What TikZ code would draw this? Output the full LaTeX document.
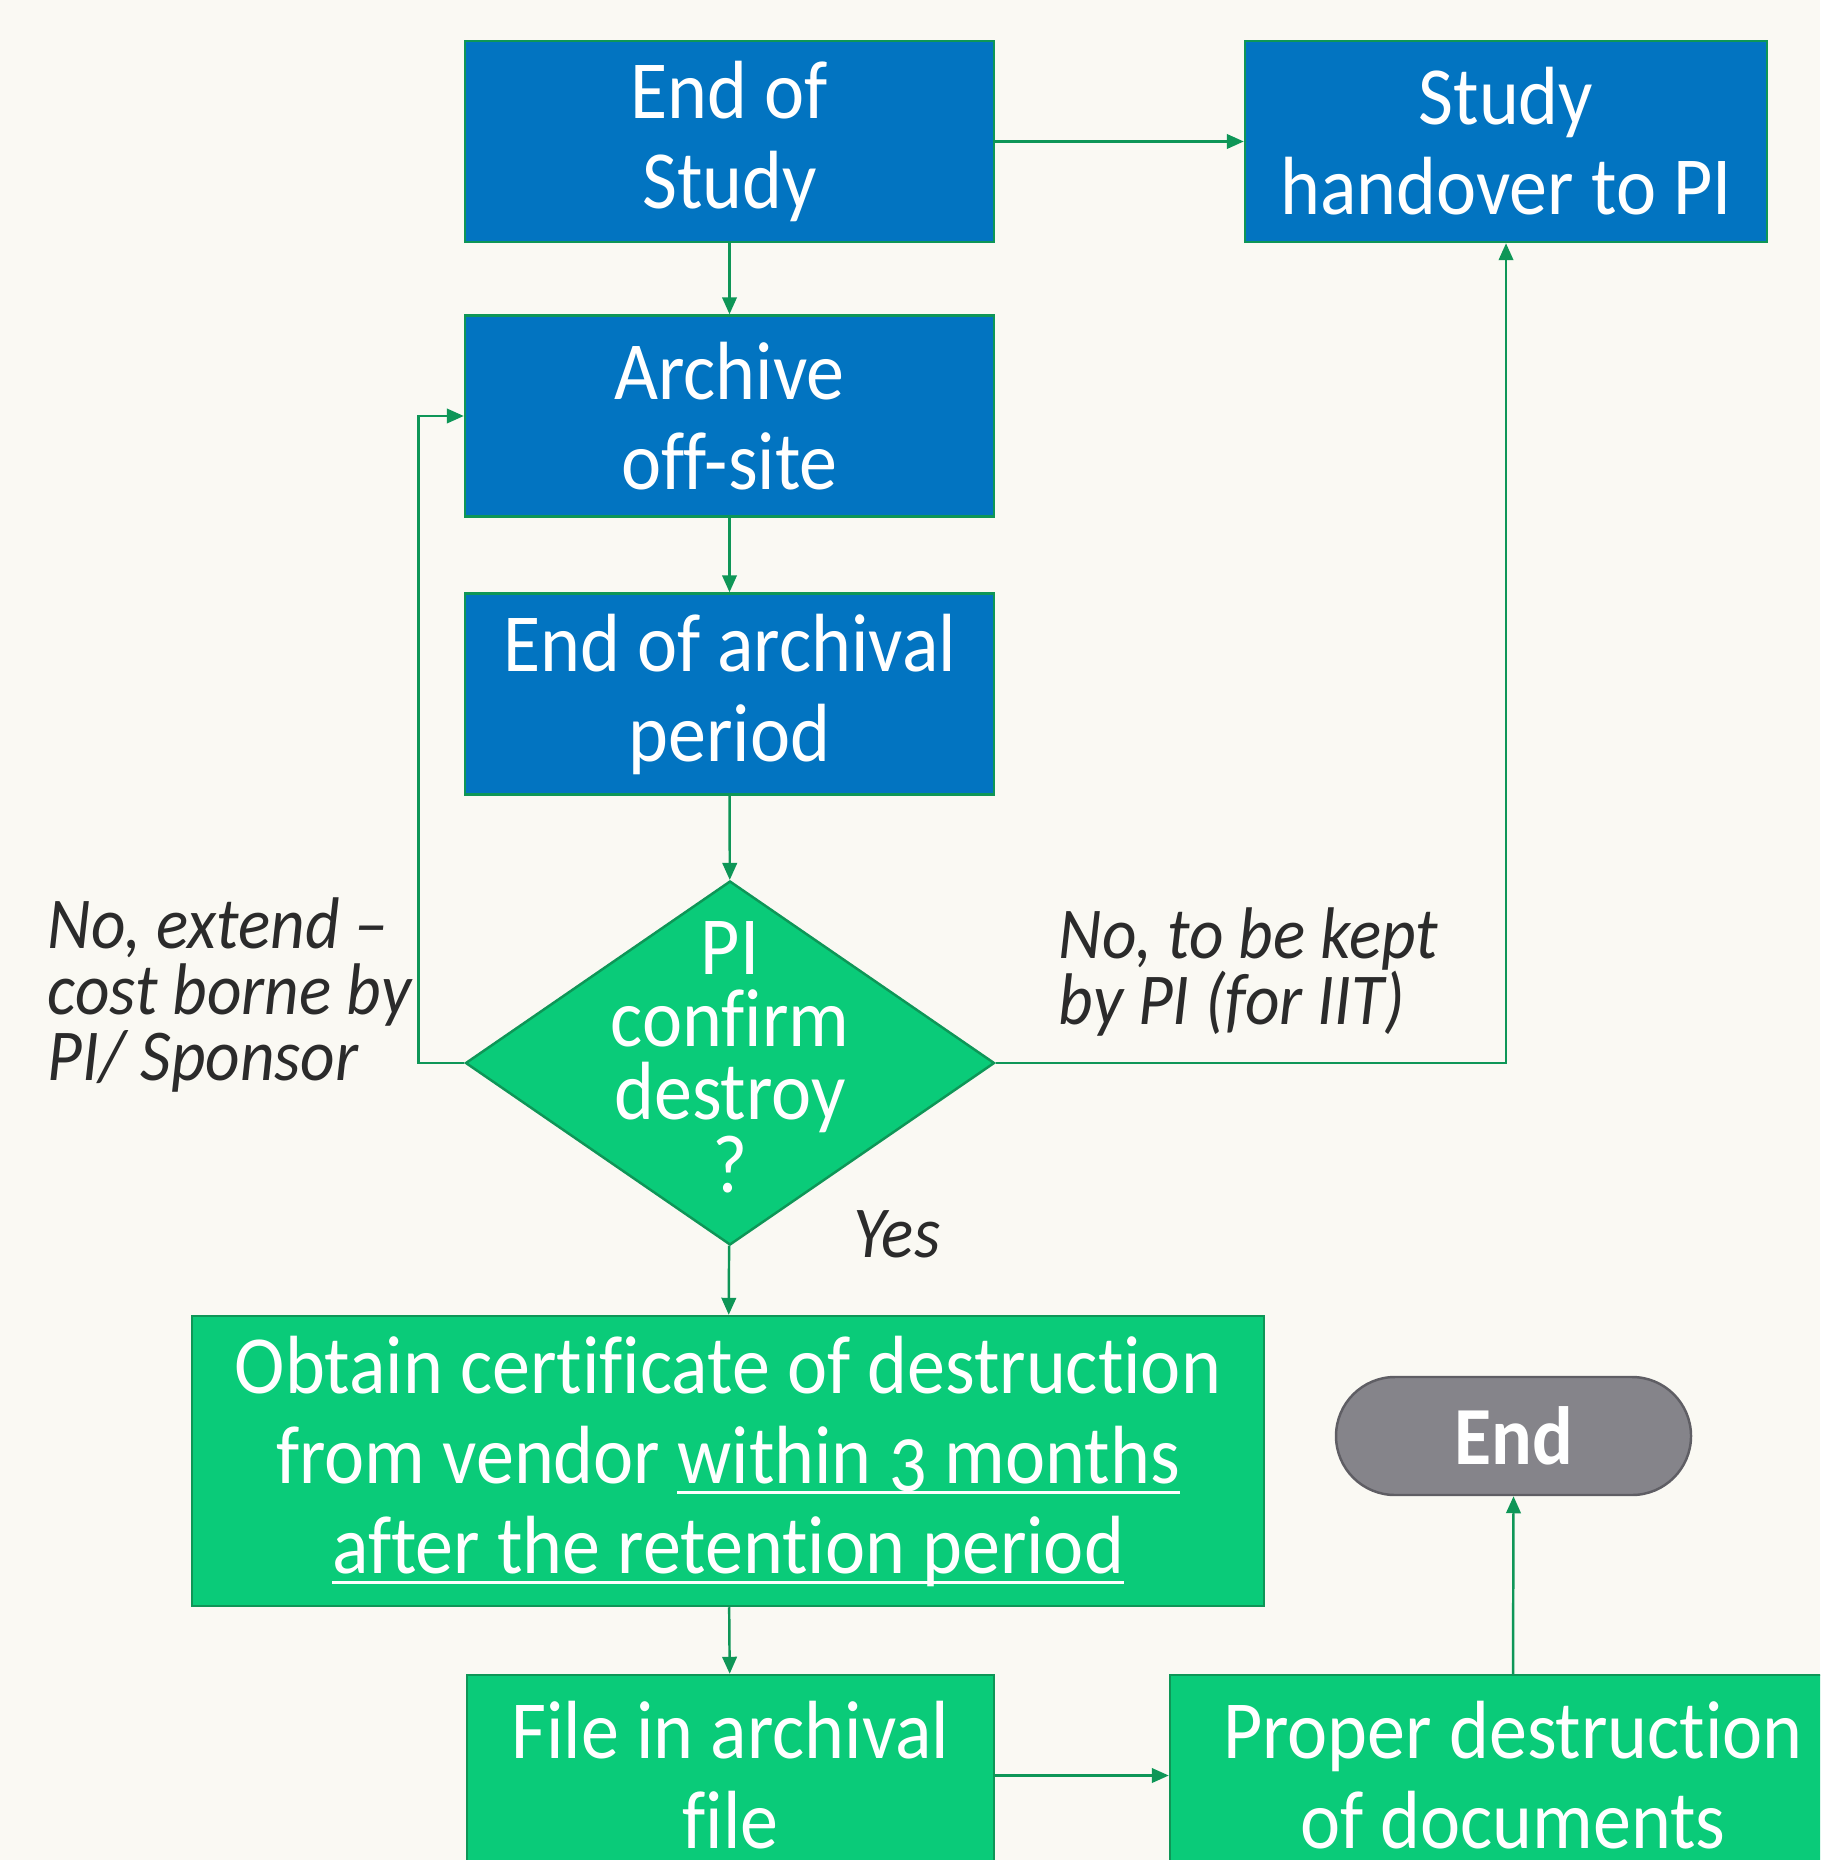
\documentclass[tikz,border=0pt]{standalone}
\usepackage{fontspec}
\setmainfont{Carlito}[FakeStretch=0.92, Ligatures=NoCommon]
\usetikzlibrary{
    arrows.meta,
    shapes.geometric,
    positioning
}
\definecolor{bgcream}{HTML}{FAF9F3}
\definecolor{boxblue}{HTML}{0274C1}
\definecolor{boxgreen}{HTML}{0ACB79}
\definecolor{linegreen}{HTML}{0E9657}
\definecolor{endgray}{HTML}{85848A}
\definecolor{endedge}{HTML}{5F5E64}
\definecolor{notetext}{HTML}{2B2B2B}
\newcommand{\ulinetext}[1]{\leavevmode\setbox0=\hbox{#1}\rlap{\vrule height -2.2pt depth 3.1pt width \wd0}\box0}
\tikzset{stepblue/.style={rectangle, draw=linegreen, fill=boxblue, text=white, line width=0.7pt, minimum width=5.29cm, minimum height=2.01cm, align=center, inner sep=0pt, font=\fontsize{23.5}{25.6}\selectfont}}
\tikzset{stepgreen/.style={stepblue, fill=boxgreen}}
\tikzset{decision/.style={diamond, draw=linegreen, fill=boxgreen, line width=0.7pt, minimum width=5.29cm, minimum height=3.64cm, inner sep=0pt}}
\tikzset{decisiontext/.style={text=white, align=center, inner sep=0pt, font=\fontsize{23.5}{20.7}\selectfont}}
\tikzset{terminal/.style={rectangle, rounded corners=0.59cm, draw=endedge, fill=endgray, text=white, line width=0.7pt, minimum width=3.55cm, minimum height=1.18cm, inner sep=0pt, font=\fontsize{23.5}{25.6}\selectfont\bfseries}}
\tikzset{note/.style={text=notetext, align=left, inner sep=0pt, font=\fontsize{20.8}{18.8}\selectfont\itshape}}
\tikzset{flow/.style={draw=linegreen, line width=0.7pt, -{Triangle[length=0.17cm, width=0.145cm]}}}

\begin{document}
\begin{tikzpicture}[x=1cm, y=-1cm]
    \fill[bgcream] (0, 0) rectangle (18.2, 18.6);
    \useasboundingbox (0, 0) rectangle (18.2, 18.6);
    \clip (0, 0) rectangle (18.2, 18.6);

    % steps
    \node[stepblue] (endstudy) at (7.295, 1.415) {End of\\Study};
    \node[stepblue, minimum width=5.22cm] (handover) at (15.06, 1.415) {Study\\handover to PI};
    \node[stepblue] (archive) at (7.295, 4.16) {Archive\\off-site};
    \node[stepblue] (endarch) at (7.295, 6.94) {End of archival\\period};

    \node[decision] (decide) at (7.30, 10.63) {};
    \node[decisiontext] (decidetext) at (7.30, 10.57) {PI\\confirm\\destroy\\?};

    \node[stepgreen, minimum width=10.72cm, minimum height=2.90cm] (obtain) at (7.28, 14.61)
        {Obtain certificate of destruction\\from vendor \ulinetext{within {\addfontfeatures{Numbers=OldStyle}3} months}\\\ulinetext{after the retention period}};
    \node[terminal] (finish) at (15.135, 14.36) {End};
    \node[stepgreen, minimum width=5.27cm] (filing) at (7.305, 17.755) {File in archival\\file};
    \node[stepgreen, minimum width=6.86cm] (destroy) at (15.13, 17.755) {Proper destruction\\of documents};

    % labels
    \node[note, anchor=west] (extendnote) at (0.47, 9.95) {No, extend –\\cost borne by\\PI/ Sponsor};
    \node[note, anchor=west] (keptnote) at (10.58, 9.72) {No, to be kept\\by PI (for IIT)};
    \node[note] (yesnote) at (8.97, 12.34) {Yes};

    % connectors
    \draw[flow] (endstudy) -- (archive);
    \draw[flow] (endstudy) -- (handover);
    \draw[flow] (archive) -- (endarch);
    \draw[flow] (endarch) -- (decide);
    \draw[flow] (decide.west) -- ++(-0.46, 0) |- (archive.west);
    \draw[flow] (decide.east) -| (handover.south);
    \draw[flow] (decide) -- (obtain);
    \draw[flow] (obtain) -- (filing);
    \draw[flow] (filing) -- (destroy);
    \draw[flow] (destroy.north) -- (finish.south);
\end{tikzpicture}
\end{document}
